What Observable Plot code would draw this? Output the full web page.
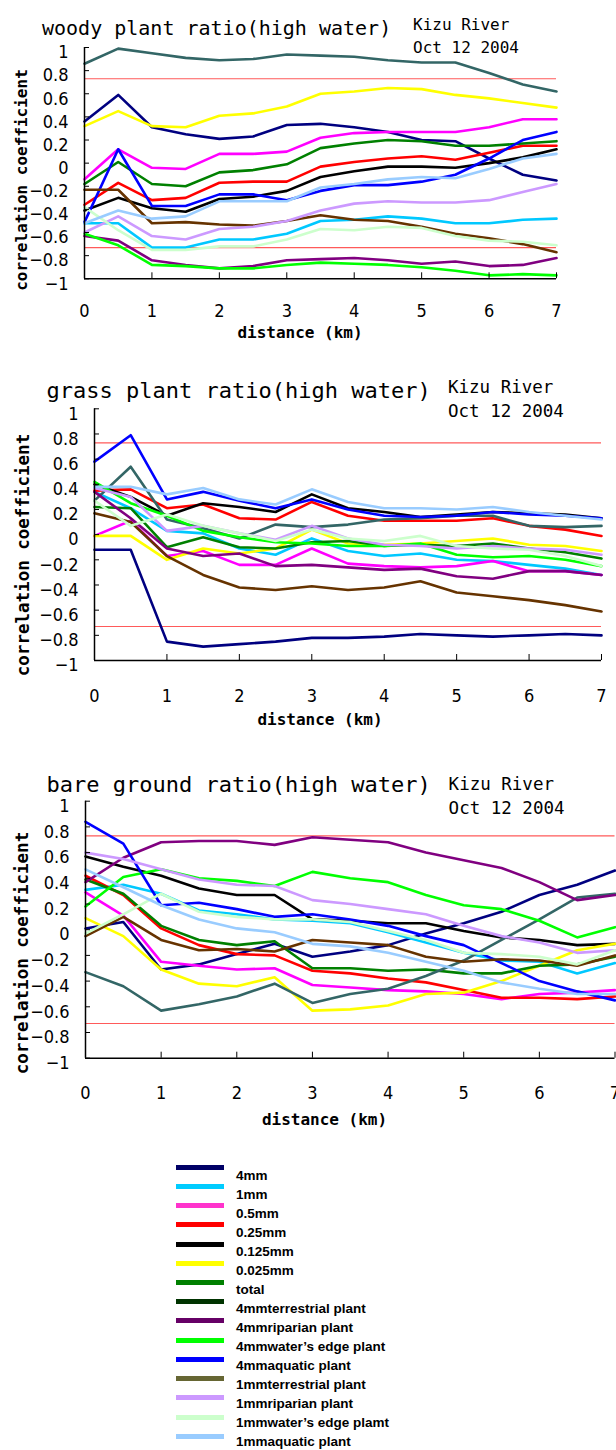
<!DOCTYPE html>
<html><head><meta charset="utf-8">
<script src="https://cdn.jsdelivr.net/npm/d3@7"></script>
<script src="https://cdn.jsdelivr.net/npm/@observablehq/plot@0.6"></script>
<style>
html,body{margin:0;padding:0;background:#fff;overflow:hidden;}
#root{position:relative;width:616px;height:1450px;overflow:hidden;background:#fff;}
.t{position:absolute;white-space:pre;font-family:"DejaVu Sans Mono",monospace;color:#000;line-height:1;}
.b{font-weight:bold;}
.panel{position:absolute;left:0;}
.sw{position:absolute;height:5px;}
.lg{position:absolute;white-space:pre;font-family:"Liberation Sans",Arial,sans-serif;font-weight:bold;font-size:13.5px;line-height:1;color:#000;}
</style></head>
<body><div id="root"></div>
<script>
// ---------- data ----------
const distances = [0,0.5,1,1.5,2,2.5,3,3.5,4,4.5,5,5.5,6,6.5,7];
const xTicks = [0,1,2,3,4,5,6,7];
const yTicks = [-1,-0.8,-0.6,-0.4,-0.2,0,0.2,0.4,0.6,0.8,1];
const refLines = [0.73,-0.73];
const seriesNames = ["4mm","1mm","0.5mm","0.25mm","0.125mm","0.025mm","total",
  "4mmterrestrial plant","4mmriparian plant","4mmwater\u2019s edge plant","4mmaquatic plant",
  "1mmterrestrial plant","1mmriparian plant","1mmwater\u2019s edge plamt","1mmaquatic plant"];
const lineColors = ["#000080","#00c8ff","#ff00ff","#ff0000","#000000","#ffff00","#008000",
  "#336666","#800080","#00ff00","#0000ff","#663300","#cc99ff","#ccffcc","#99ccff"];
const legendColors = ["#000066","#00ccff","#ff33cc","#ff0000","#000000","#ffff00","#008000",
  "#003300","#660066","#00ff00","#0000ff","#666633","#cc99ff","#ccffcc","#99ccff"];
const panelTitles = ["woody plant ratio(high water)","grass plant ratio(high water)","bare ground ratio(high water)"];
const placeLabel = "Kizu River";
const dateLabel = "Oct 12 2004";
const yTitle = "correlation coefficient";
const xTitle = "distance (km)";

const woodyValues = [
  [0.36,0.59,0.31,0.25,0.21,0.23,0.33,0.34,0.31,0.27,0.20,0.19,0.04,-0.10,-0.15],
  [-0.52,-0.52,-0.73,-0.73,-0.66,-0.66,-0.61,-0.50,-0.49,-0.46,-0.48,-0.52,-0.52,-0.49,-0.48],
  [-0.14,0.12,-0.04,-0.05,0.08,0.08,0.10,0.22,0.26,0.27,0.27,0.27,0.31,0.38,0.38],
  [-0.36,-0.17,-0.32,-0.30,-0.17,-0.16,-0.16,-0.03,0.01,0.04,0.06,0.03,0.09,0.15,0.15],
  [-0.41,-0.30,-0.39,-0.42,-0.31,-0.29,-0.24,-0.12,-0.07,-0.03,-0.03,-0.04,0.00,0.05,0.12],
  [0.32,0.45,0.32,0.31,0.41,0.43,0.49,0.60,0.62,0.65,0.64,0.59,0.56,0.52,0.48],
  [-0.18,0.01,-0.18,-0.20,-0.08,-0.06,-0.01,0.13,0.17,0.20,0.19,0.15,0.15,0.17,0.19],
  [0.86,0.99,0.95,0.91,0.89,0.90,0.94,0.93,0.92,0.89,0.87,0.87,0.78,0.68,0.62],
  [-0.63,-0.67,-0.84,-0.88,-0.91,-0.89,-0.84,-0.83,-0.82,-0.84,-0.87,-0.85,-0.89,-0.88,-0.82],
  [-0.61,-0.71,-0.88,-0.89,-0.91,-0.91,-0.88,-0.86,-0.87,-0.88,-0.90,-0.93,-0.97,-0.96,-0.97],
  [-0.51,0.12,-0.37,-0.37,-0.27,-0.27,-0.32,-0.24,-0.19,-0.19,-0.16,-0.10,0.04,0.20,0.27],
  [-0.23,-0.23,-0.52,-0.51,-0.53,-0.54,-0.50,-0.45,-0.49,-0.50,-0.55,-0.61,-0.65,-0.70,-0.77],
  [-0.60,-0.46,-0.63,-0.66,-0.57,-0.55,-0.50,-0.41,-0.35,-0.33,-0.34,-0.34,-0.32,-0.25,-0.18],
  [-0.38,-0.58,-0.75,-0.75,-0.72,-0.72,-0.66,-0.57,-0.58,-0.55,-0.56,-0.63,-0.67,-0.68,-0.71],
  [-0.52,-0.41,-0.48,-0.46,-0.33,-0.33,-0.33,-0.21,-0.18,-0.14,-0.12,-0.13,-0.05,0.04,0.08]
];
const grassValues = [
  [-0.12,-0.12,-0.85,-0.89,-0.87,-0.85,-0.82,-0.82,-0.81,-0.79,-0.80,-0.81,-0.80,-0.79,-0.80],
  [0.34,0.21,0.03,0.01,-0.11,-0.16,-0.03,-0.13,-0.17,-0.15,-0.20,-0.21,-0.24,-0.27,-0.32],
  [-0.01,0.11,-0.17,-0.13,-0.24,-0.24,-0.11,-0.23,-0.25,-0.26,-0.25,-0.21,-0.29,-0.29,-0.32],
  [0.35,0.36,0.21,0.24,0.13,0.12,0.26,0.15,0.11,0.11,0.11,0.13,0.07,0.04,-0.01],
  [0.40,0.30,0.15,0.25,0.22,0.18,0.32,0.21,0.18,0.14,0.16,0.18,0.17,0.16,0.13],
  [-0.01,-0.01,-0.20,-0.11,-0.15,-0.11,0.04,-0.07,-0.08,-0.07,-0.05,-0.03,-0.08,-0.09,-0.13],
  [0.22,0.21,-0.10,-0.02,-0.10,-0.11,-0.06,-0.05,-0.09,-0.08,-0.09,-0.07,-0.11,-0.14,-0.19],
  [0.27,0.54,0.12,0.05,-0.03,0.08,0.06,0.08,0.12,0.13,0.15,0.15,0.07,0.06,0.07],
  [0.34,0.13,-0.11,-0.17,-0.15,-0.25,-0.24,-0.26,-0.28,-0.27,-0.33,-0.35,-0.29,-0.29,-0.32],
  [0.42,0.25,0.15,0.03,-0.02,-0.06,-0.07,-0.09,-0.09,-0.07,-0.16,-0.18,-0.17,-0.20,-0.25],
  [0.58,0.79,0.28,0.34,0.27,0.21,0.28,0.20,0.15,0.14,0.15,0.18,0.16,0.15,0.13],
  [0.17,0.10,-0.17,-0.32,-0.42,-0.44,-0.41,-0.44,-0.42,-0.37,-0.46,-0.49,-0.52,-0.56,-0.61],
  [0.37,0.30,0.03,0.07,0.01,-0.04,0.07,-0.03,-0.08,-0.09,-0.11,-0.09,-0.11,-0.12,-0.16],
  [0.27,0.07,0.16,0.07,0.01,-0.05,0.04,-0.03,-0.05,-0.01,-0.09,-0.11,-0.12,-0.17,-0.25],
  [0.38,0.38,0.32,0.37,0.28,0.24,0.36,0.26,0.21,0.21,0.20,0.22,0.18,0.15,0.12]
];
const bareValues = [
  [0.01,0.06,-0.31,-0.27,-0.19,-0.11,-0.21,-0.17,-0.12,-0.03,0.05,0.14,0.27,0.35,0.46],
  [0.31,0.35,0.28,0.15,0.12,0.08,0.07,0.05,-0.02,-0.10,-0.18,-0.24,-0.25,-0.34,-0.26],
  [0.29,0.11,-0.25,-0.28,-0.31,-0.30,-0.43,-0.45,-0.47,-0.48,-0.50,-0.54,-0.50,-0.49,-0.47],
  [0.42,0.27,0.01,-0.12,-0.19,-0.20,-0.32,-0.34,-0.38,-0.41,-0.47,-0.53,-0.53,-0.54,-0.52],
  [0.57,0.49,0.42,0.32,0.27,0.27,0.08,0.07,0.05,0.05,-0.01,-0.06,-0.08,-0.12,-0.11],
  [0.09,-0.05,-0.31,-0.42,-0.44,-0.37,-0.63,-0.62,-0.59,-0.50,-0.49,-0.40,-0.28,-0.16,-0.11],
  [0.39,0.28,0.03,-0.08,-0.12,-0.09,-0.30,-0.30,-0.32,-0.31,-0.34,-0.34,-0.28,-0.27,-0.21],
  [-0.33,-0.44,-0.63,-0.58,-0.52,-0.42,-0.57,-0.50,-0.46,-0.36,-0.24,-0.08,0.08,0.25,0.28],
  [0.37,0.56,0.68,0.69,0.69,0.66,0.72,0.70,0.68,0.60,0.54,0.48,0.37,0.23,0.27],
  [0.18,0.41,0.47,0.40,0.38,0.34,0.45,0.40,0.37,0.27,0.19,0.16,0.07,-0.06,0.02],
  [0.84,0.67,0.19,0.21,0.16,0.10,0.12,0.08,0.03,-0.05,-0.12,-0.26,-0.40,-0.48,-0.55],
  [-0.05,0.10,-0.08,-0.16,-0.15,-0.17,-0.08,-0.10,-0.12,-0.21,-0.25,-0.23,-0.24,-0.28,-0.20],
  [0.60,0.55,0.47,0.39,0.35,0.34,0.23,0.20,0.16,0.12,0.03,-0.05,-0.10,-0.18,-0.16],
  [-0.03,0.12,0.28,0.14,0.10,0.08,0.08,0.06,-0.01,-0.08,-0.18,-0.19,-0.21,-0.27,-0.16],
  [0.47,0.33,0.19,0.08,0.01,-0.02,-0.11,-0.13,-0.18,-0.25,-0.32,-0.41,-0.46,-0.50,-0.50]
];

// ---------- layout ----------
const root = document.getElementById("root");
const tickFont = '"Liberation Sans Narrow","DejaVu Sans Condensed",sans-serif';
const fmt = d => d === 0 ? "0" : String(d).replace("-", "\u2212");

function addText(str, x, baseline, size, cls = "t", extra = {}) {
  const el = document.createElement("div");
  el.className = cls;
  el.textContent = str;
  el.style.fontSize = size + "px";
  el.style.left = x + "px";
  el.style.top = (baseline - 0.85 * size) + "px";
  Object.assign(el.style, extra);
  root.appendChild(el);
  return el;
}
function addCentered(str, cx, cy, size, rotate) {
  const el = document.createElement("div");
  el.className = "t b";
  el.textContent = str;
  el.style.fontSize = size + "px";
  el.style.left = cx + "px";
  el.style.top = cy + "px";
  el.style.transform = `translate(-50%,-50%)` + (rotate ? ` rotate(-90deg)` : "");
  root.appendChild(el);
}

const panels = [
  {values: woodyValues, top: 0, height: 350, mt: 47, mb: 71.7, ml: 84, mr: 60, xPad: 25,
   title: [42, 35, 20], place: [413, 30.5, 16], date: [413, 53.3, 16], yT: [22, 180, 16], xT: [300, 339, 16]},
  {values: grassValues, top: 370, height: 350, mt: 38.3, mb: 60, ml: 94, mr: 15, xPad: 28.5,
   title: [46.6, 398.3, 22], place: [448, 394, 17.5], date: [448, 418.3, 17.5], yT: [24, 555, 17.5], xT: [320, 726, 16]},
  {values: bareValues, top: 760, height: 350, mt: 40.7, mb: 52.3, ml: 85, mr: 1.5, xPad: 28.5,
   title: [46.6, 792.3, 22], place: [448.6, 790.7, 17.5], date: [448.6, 815, 17.5], yT: [23, 952.5, 17.5], xT: [324.5, 1126, 16]}
];

panels.forEach((p, k) => {
  const rows = [];
  p.values.forEach((vals, s) => vals.forEach((v, i) => rows.push({series: seriesNames[s], x: distances[i], y: v})));
  const chart = Plot.plot({
    width: 616, height: p.height,
    marginTop: p.mt, marginBottom: p.mb, marginLeft: p.ml, marginRight: p.mr,
    style: {fontFamily: tickFont, fontSize: "18px", background: "transparent", overflow: "visible", color: "#000"},
    x: {domain: [0, 7], label: null},
    y: {domain: [-1, 1], label: null},
    color: {type: "ordinal", domain: seriesNames, range: lineColors},
    marks: [
      Plot.ruleY(refLines, {stroke: "#ff5a5a", strokeWidth: 1.2}),
      Plot.line(rows, {x: "x", y: "y", z: "series", stroke: "series", strokeWidth: 2.6}),
      Plot.ruleX([0], {stroke: "#000", strokeWidth: 1.5}),
      Plot.ruleY([-1], {stroke: "#000", strokeWidth: 1.5}),
      Plot.axisY(yTicks, {tickSize: -5, tickFormat: () => "", stroke: "#000"}),
      Plot.axisY(yTicks, {tickSize: 0, tickPadding: 16, dy: 5, tickFormat: fmt, fill: "#000"}),
      Plot.axisX(xTicks, {tickSize: -6, tickFormat: () => "", stroke: "#000"}),
      Plot.axisX(xTicks, {tickSize: 0, tickPadding: p.xPad, tickFormat: fmt, fill: "#000"})
    ]
  });
  chart.classList.add("panel");
  chart.style.top = p.top + "px";
  root.appendChild(chart);

  addText(panelTitles[k], p.title[0], p.title[1], p.title[2]);
  addText(placeLabel, p.place[0], p.place[1], p.place[2]);
  addText(dateLabel, p.date[0], p.date[1], p.date[2]);
  addCentered(yTitle, p.yT[0], p.yT[1], p.yT[2], true);
  addCentered(xTitle, p.xT[0], p.xT[1] - 6, p.xT[2], false);
});

// ---------- legend ----------
seriesNames.forEach((name, i) => {
  const sw = document.createElement("div");
  sw.className = "sw";
  sw.style.left = "176px";
  sw.style.width = "48px";
  sw.style.top = (1167.3 + 19.21 * i - 2.5) + "px";
  sw.style.background = legendColors[i];
  root.appendChild(sw);
  addText(name, 236, 1180.5 + 19.0 * i, 13.5, "lg");
});
</script>
</body></html>
